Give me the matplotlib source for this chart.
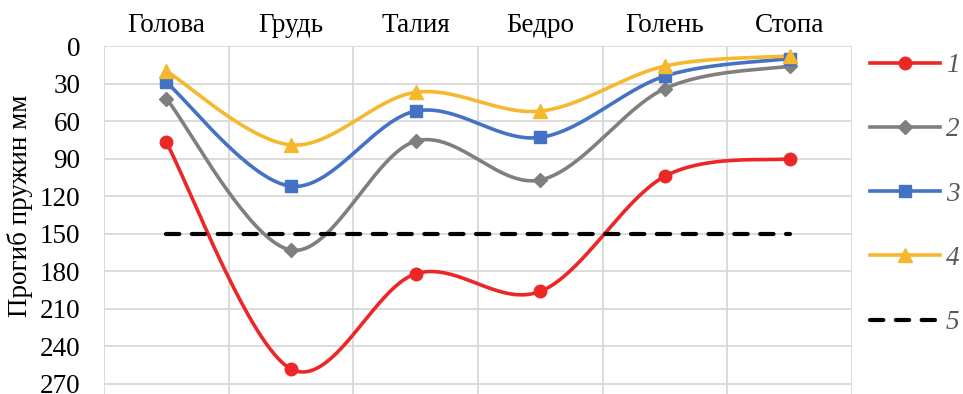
import numpy as np
import matplotlib

matplotlib.use("Agg")
import matplotlib.pyplot as plt
from matplotlib.lines import Line2D

categories = ["Голова", "Грудь", "Талия", "Бедро", "Голень", "Стопа"]
series_1 = [77, 258, 182, 196, 104, 90]
series_2 = [42, 163, 76, 107, 34, 16]
series_3 = [29, 112, 52, 73, 24, 10]
series_4 = [20, 79, 37, 52, 16, 8]
series_5 = [150, 150, 150, 150, 150, 150]
legend_labels = ["1", "2", "3", "4", "5"]
y_ticks = list(range(0, 271, 30))

plt.rcParams["font.family"] = ["Liberation Serif", "DejaVu Serif"]
FS = 19.5


def smooth(xs, ys, n=40):
    """Catmull-Rom style bezier, like Excel's smoothed lines."""
    p = np.column_stack([xs, ys]).astype(float)
    ext = np.vstack([p[0], p, p[-1]])
    out = []
    t = np.linspace(0, 1, n)[:, None]
    for i in range(len(p) - 1):
        p0, p1, p2, p3 = ext[i], ext[i + 1], ext[i + 2], ext[i + 3]
        c1 = p1 + (p2 - p0) / 6
        c2 = p2 - (p3 - p1) / 6
        seg = ((1 - t) ** 3) * p1 + 3 * ((1 - t) ** 2) * t * c1 \
            + 3 * (1 - t) * t ** 2 * c2 + t ** 3 * p2
        out.append(seg if i == 0 else seg[1:])
    out = np.vstack(out)
    return out[:, 0], out[:, 1]


fig = plt.figure(figsize=(9.63, 3.94), dpi=100)
ax = fig.add_axes([104 / 963, 0.0, (852 - 104) / 963, (394 - 46) / 394])

x = np.arange(len(categories))
styles = [
    (series_1, "#EC2727", "o", 9),
    (series_2, "#7F7F7F", "D", 7),
    (series_3, "#4472C4", "s", 9),
    (series_4, "#F5B82E", "^", 10),
]
handles = []
for vals, color, marker, ms in styles:
    sx, sy = smooth(x, vals)
    ax.plot(sx, sy, color=color, lw=2.6, solid_capstyle="round", zorder=3)
    ax.plot(x, vals, ls="none", marker=marker, ms=ms, color=color, zorder=4)
    handles.append(Line2D([], [], color=color, lw=2.6, marker=marker, ms=ms))

ax.plot(x, series_5, color="black", lw=3, dashes=(3.2, 3.0),
        dash_capstyle="round", zorder=5)
handles.append(Line2D([], [], color="black", lw=3, dashes=(3.2, 3.0),
                      dash_capstyle="round"))

ax.set_xlim(-0.5, len(categories) - 0.5)
ax.set_ylim(278, 0)
ax.set_yticks(y_ticks)
ax.set_yticklabels([str(v) for v in y_ticks], fontsize=FS)
ax.tick_params(axis="y", length=0, pad=17)

ax.xaxis.tick_top()
ax.set_xticks(x)
ax.set_xticklabels(categories, fontsize=FS)
ax.set_xticks(np.arange(-0.5, len(categories)), minor=True)
ax.tick_params(axis="x", which="both", length=0, pad=6)

ax.grid(axis="y", color="#D9D9D9", lw=1.3, zorder=0)
ax.grid(axis="x", which="minor", color="#D9D9D9", lw=1.3, zorder=0)
for s in ax.spines.values():
    s.set_visible(False)

ax.set_ylabel("Прогиб пружин мм", fontsize=FS)
ax.yaxis.set_label_coords(-0.095, 0.54)

leg = fig.legend(handles, legend_labels, loc="upper left",
                 bbox_to_anchor=(870 / 963, 1 - 53 / 394), frameon=False,
                 borderpad=0, borderaxespad=0,
                 handlelength=2.6, labelspacing=1.45, handletextpad=0.2,
                 prop={"size": FS, "style": "italic"})
for t in leg.get_texts():
    t.set_color("#595959")

fig.savefig("out.png", dpi=100)
